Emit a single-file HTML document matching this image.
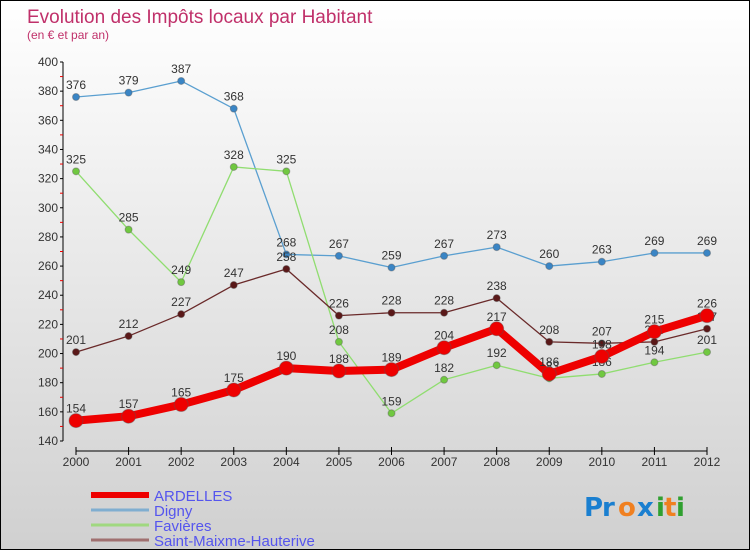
<!DOCTYPE html>
<html><head><meta charset="utf-8"><style>
body{margin:0;}
#c{width:750px;height:550px;position:relative;box-sizing:border-box;border:1px solid #000;background:linear-gradient(#fff,#d0d0d0);font-family:"Liberation Sans",sans-serif;overflow:hidden}
</style></head><body>
<div id="c">
<svg id="s" width="748" height="548" xmlns="http://www.w3.org/2000/svg" style="position:absolute;left:0;top:0">
<text x="26" y="22" font-size="19" fill="#c0306a">Evolution des Impôts locaux par Habitant</text>
<text x="26" y="38" font-size="12" fill="#c0306a">(en € et par an)</text>
<g id="axes"></g><g id="series"></g><g id="legend"></g>
<g font-size="26" font-weight="bold" font-family="DejaVu Sans, sans-serif">
<text x="583" y="515" fill="#1a7fd0">P</text><text x="601" y="515" fill="#1a7fd0">r</text><text x="617" y="515" fill="#f08020">o</text><text x="636" y="515" fill="#1a7fd0">x</text><text x="655" y="515" fill="#30a030">i</text><text x="663" y="515" fill="#f08020">t</text><text x="675" y="515" fill="#30a030">i</text></g>
</svg></div>
<script>
const years=[2000,2001,2002,2003,2004,2005,2006,2007,2008,2009,2010,2011,2012];
const ardelles=[154,157,165,175,190,188,189,204,217,186,198,215,226];
const digny=[376,379,387,368,268,267,259,267,273,260,263,269,269];
const favieres=[325,285,249,328,325,208,159,182,192,183,186,194,201];
const saintMaixme=[201,212,227,247,258,226,228,228,238,208,207,208,217];
const yTicks=[140,160,180,200,220,240,260,280,300,320,340,360,380,400];
const NS="http://www.w3.org/2000/svg";
const X=i=>75+i*(706-75)/12;
const Y=v=>61+(400-v)*(440-61)/260;
function mk(t,a,p){const e=document.createElementNS(NS,t);for(const k in a)e.setAttribute(k,a[k]);p.appendChild(e);return e;}
const ax=document.getElementById('axes');
let l=mk('line',{x1:62,y1:Y(400),x2:62,y2:Y(140),stroke:'#000'},ax);


yTicks.forEach(v=>{mk('line',{x1:59,x2:62,y1:Y(v),y2:Y(v),stroke:'#000'},ax);
 if(v<400)mk('line',{x1:59,x2:62,y1:Y(v+10),y2:Y(v+10),stroke:'#e00'},ax);
 const t=mk('text',{x:57,y:Y(v)+4,'text-anchor':'end','font-size':12,fill:'#333'},ax);t.textContent=v;
 
 });
l=mk('line',{x1:75,y1:450,x2:706,y2:450,stroke:'#000'},ax);


years.forEach((y,i)=>{mk('line',{x1:X(i),x2:X(i),y1:446,y2:454,stroke:'#000'},ax);
 const t=mk('text',{x:X(i),y:465,'text-anchor':'middle','font-size':12,fill:'#333'},ax);t.textContent=y;
 
 });
const sg=document.getElementById('series');
function draw(name,vals,col,w,r,dot){
 const g=mk('g',{},sg);
 
 
 mk('polyline',{points:vals.map((v,i)=>X(i)+','+Y(v)).join(' '),fill:'none',stroke:col,'stroke-width':w,'stroke-linejoin':'round'},g);
 vals.forEach((v,i)=>{const c=mk('circle',{cx:X(i),cy:Y(v),r:r,fill:dot,stroke:'#555','stroke-opacity':0.4},g);
  
  
  const t=mk('text',{x:X(i),y:Y(v)-8,'text-anchor':'middle','font-size':12,fill:'#333'},g);t.textContent=v;
  
  });
}
draw('digny',digny,'#5a9fd0',1.3,3.5,'#3a85c5');
draw('favieres',favieres,'#90dd70',1.3,3.5,'#70c840');
draw('saint-maixme',saintMaixme,'#6a2a2a',1.3,3.5,'#5a1818');
draw('ardelles',ardelles,'#ee0000',8,7,'#ee0000');
const lg=document.getElementById('legend');
const names=['ARDELLES','Digny','Favières','Saint-Maixme-Hauterive'];
const cols=['#ee0000','#80aed0','#a0d880','#a07070'];
names.forEach((n,i)=>{const y=494+i*15;
 mk('line',{x1:90,x2:148,y1:y,y2:y,stroke:cols[i],'stroke-width':i==0?6:3},lg);
 const t=mk('text',{x:153,y:y+6,'font-size':15,fill:'#5555ee'},lg);t.textContent=n;
 
 });
</script>
</body></html>
